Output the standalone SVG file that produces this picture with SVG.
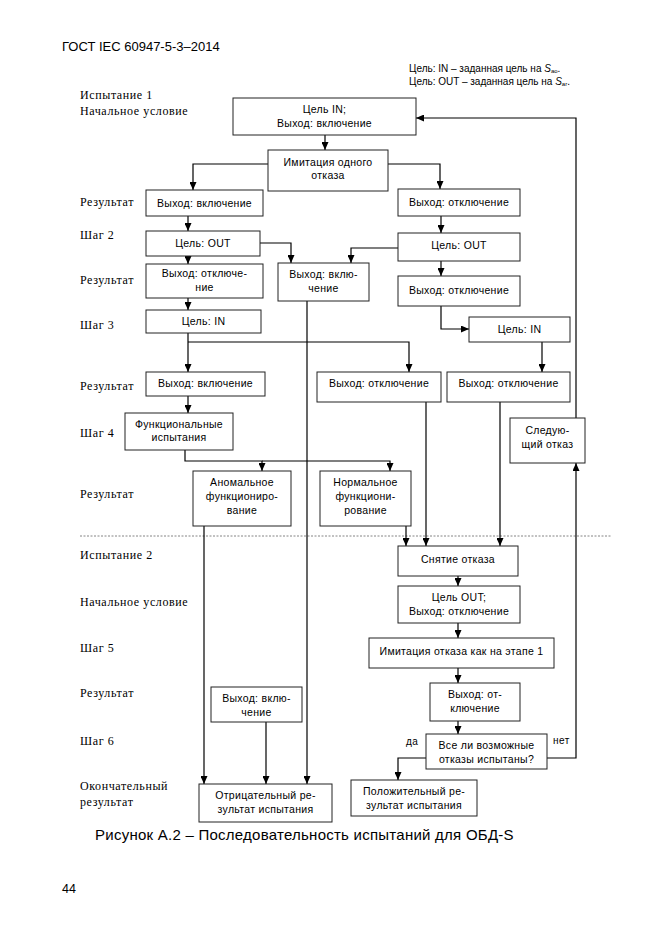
<svg xmlns="http://www.w3.org/2000/svg" width="661" height="935" viewBox="0 0 661 935">
<style>
.bg{fill:#fff}
.box{fill:#fff;stroke:#222;stroke-width:1}
.t{font-family:"Liberation Sans",Arial,sans-serif;font-size:10.5px;fill:#000;text-anchor:middle;letter-spacing:0.3px}
.lbl{font-family:"Liberation Serif","Times New Roman",serif;font-size:12px;fill:#000;letter-spacing:0.6px}
.c{fill:none;stroke:#000;stroke-width:1.2}
.hdr{font-family:"Liberation Sans",Arial,sans-serif;fill:#000}
</style>
<defs>
<marker id="ah" markerUnits="userSpaceOnUse" markerWidth="8" markerHeight="7" refX="8" refY="3.5" orient="auto">
<path d="M0,0 L8,3.5 L0,7 z" fill="#000"/>
</marker>
</defs>
<rect class="bg" x="0" y="0" width="661" height="935"/>
<g id="header">
<text class="hdr" x="62" y="51" font-size="13">ГОСТ IEC 60947-5-3–2014</text>
<text class="hdr" x="409" y="72" font-size="10">Цель: IN – заданная цель на <tspan font-style="italic">S</tspan><tspan font-size="6" dy="1">ao</tspan><tspan dy="-1">.</tspan></text>
<text class="hdr" x="409" y="85" font-size="10">Цель: OUT – заданная цель на <tspan font-style="italic">S</tspan><tspan font-size="6" dy="1">ar</tspan><tspan dy="-1">.</tspan></text>
<text class="hdr" x="95" y="840" font-size="15" letter-spacing="0.25">Рисунок А.2 – Последовательность испытаний для ОБД-S</text>
<text class="hdr" x="62" y="893" font-size="12.5">44</text>
</g>
<g id="labels">
<text class="lbl" x="80" y="99">Испытание 1</text>
<text class="lbl" x="80" y="115">Начальное условие</text>
<text class="lbl" x="80" y="206">Результат</text>
<text class="lbl" x="80" y="239">Шаг 2</text>
<text class="lbl" x="80" y="284">Результат</text>
<text class="lbl" x="80" y="329">Шаг 3</text>
<text class="lbl" x="80" y="390">Результат</text>
<text class="lbl" x="80" y="437">Шаг 4</text>
<text class="lbl" x="80" y="498">Результат</text>
<text class="lbl" x="80" y="559">Испытание 2</text>
<text class="lbl" x="80" y="606">Начальное условие</text>
<text class="lbl" x="80" y="652">Шаг 5</text>
<text class="lbl" x="80" y="697">Результат</text>
<text class="lbl" x="80" y="745">Шаг 6</text>
<text class="lbl" x="80" y="790">Окончательный</text>
<text class="lbl" x="80" y="806">результат</text>
</g>
<line x1="80" y1="536" x2="611" y2="536" stroke="#666" stroke-width="0.8" stroke-dasharray="2,1.5"/>
<g id="connectors">
<path class="c" d="M325,135 V150" marker-end="url(#ah)"/>
<path class="c" d="M268,164 H193 V190" marker-end="url(#ah)"/>
<path class="c" d="M388,164 H440 V189" marker-end="url(#ah)"/>
<path class="c" d="M188,216 V231" marker-end="url(#ah)"/>
<path class="c" d="M188,256 V264" marker-end="url(#ah)"/>
<path class="c" d="M260,243 H291 V263" marker-end="url(#ah)"/>
<path class="c" d="M398,248 H351 V263" marker-end="url(#ah)"/>
<path class="c" d="M441,216 V233" marker-end="url(#ah)"/>
<path class="c" d="M441,261 V276" marker-end="url(#ah)"/>
<path class="c" d="M188,298 V310" marker-end="url(#ah)"/>
<path class="c" d="M441,306 V329 H469" marker-end="url(#ah)"/>
<path class="c" d="M188,333 V372" marker-end="url(#ah)"/>
<path class="c" d="M188,342 H409 V372" marker-end="url(#ah)"/>
<path class="c" d="M542,342 V372" marker-end="url(#ah)"/>
<path class="c" d="M188,396 V413" marker-end="url(#ah)"/>
<path class="c" d="M185,450 V461 H262 V471" marker-end="url(#ah)"/>
<path class="c" d="M262,461 H390 V471" marker-end="url(#ah)"/>
<path class="c" d="M307,301 V784" marker-end="url(#ah)"/>
<path class="c" d="M204,526 V784" marker-end="url(#ah)"/>
<path class="c" d="M266,722 V784" marker-end="url(#ah)"/>
<path class="c" d="M406,526 V546" marker-end="url(#ah)"/>
<path class="c" d="M426,402 V546" marker-end="url(#ah)"/>
<path class="c" d="M500,402 V546" marker-end="url(#ah)"/>
<path class="c" d="M458,576 V586" marker-end="url(#ah)"/>
<path class="c" d="M458,623 V638" marker-end="url(#ah)"/>
<path class="c" d="M458,668 V683" marker-end="url(#ah)"/>
<path class="c" d="M458,721 V734" marker-end="url(#ah)"/>
<path class="c" d="M426,758 H398 V780" marker-end="url(#ah)"/>
<path class="c" d="M547,758 H576 V463" marker-end="url(#ah)"/>
<path class="c" d="M576,418 V118 H416" marker-end="url(#ah)"/>
<text class="hdr" x="406" y="745" font-size="10" font-family="Liberation Serif" letter-spacing="0.5">да</text>
<text class="hdr" x="553" y="744" font-size="10" font-family="Liberation Serif" letter-spacing="0.5">нет</text>
</g>
<g id="nA"><rect class="box" x="233" y="98" width="183" height="37"/><text class="t" x="324.5" y="113">Цель IN;</text><text class="t" x="324.5" y="127">Выход: включение</text></g>
<g id="nB"><rect class="box" x="268" y="150" width="120" height="41"/><text class="t" x="328" y="166">Имитация одного</text><text class="t" x="328" y="179">отказа</text></g>
<g id="nC"><rect class="box" x="146" y="190" width="117" height="26"/><text class="t" x="204.5" y="207">Выход: включение</text></g>
<g id="nD"><rect class="box" x="398" y="189" width="122" height="27"/><text class="t" x="459" y="206">Выход: отключение</text></g>
<g id="nE"><rect class="box" x="146" y="231" width="114" height="25"/><text class="t" x="203" y="247">Цель: OUT</text></g>
<g id="nF"><rect class="box" x="398" y="233" width="122" height="28"/><text class="t" x="459" y="249">Цель: OUT</text></g>
<g id="nG"><rect class="box" x="146" y="264" width="117" height="34"/><text class="t" x="204.5" y="277">Выход: отключе-</text><text class="t" x="204.5" y="291">ние</text></g>
<g id="nH"><rect class="box" x="278" y="263" width="91" height="38"/><text class="t" x="323.5" y="278">Выход: вклю-</text><text class="t" x="323.5" y="292">чение</text></g>
<g id="nI"><rect class="box" x="398" y="276" width="122" height="30"/><text class="t" x="459" y="294">Выход: отключение</text></g>
<g id="nJ"><rect class="box" x="146" y="310" width="115" height="23"/><text class="t" x="203.5" y="325">Цель: IN</text></g>
<g id="nK"><rect class="box" x="469" y="317" width="101" height="25"/><text class="t" x="519.5" y="333">Цель: IN</text></g>
<g id="nL"><rect class="box" x="146" y="372" width="119" height="24"/><text class="t" x="205.5" y="387">Выход: включение</text></g>
<g id="nM"><rect class="box" x="317" y="372" width="124" height="30"/><text class="t" x="379" y="387">Выход: отключение</text></g>
<g id="nN"><rect class="box" x="447" y="372" width="123" height="30"/><text class="t" x="508.5" y="387">Выход: отключение</text></g>
<g id="nO"><rect class="box" x="125" y="413" width="108" height="37"/><text class="t" x="179" y="428">Функциональные</text><text class="t" x="179" y="441">испытания</text></g>
<g id="nP"><rect class="box" x="510" y="418" width="75" height="45"/><text class="t" x="547.5" y="434">Следую-</text><text class="t" x="547.5" y="448">щий отказ</text></g>
<g id="nQ"><rect class="box" x="193" y="471" width="98" height="55"/><text class="t" x="242" y="486">Аномальное</text><text class="t" x="242" y="500">функциониро-</text><text class="t" x="242" y="514">вание</text></g>
<g id="nR"><rect class="box" x="320" y="471" width="91" height="55"/><text class="t" x="365.5" y="486">Нормальное</text><text class="t" x="365.5" y="500">функциони-</text><text class="t" x="365.5" y="514">рование</text></g>
<g id="nS"><rect class="box" x="398" y="546" width="120" height="30"/><text class="t" x="458" y="563">Снятие отказа</text></g>
<g id="nT"><rect class="box" x="398" y="586" width="122" height="37"/><text class="t" x="459" y="601">Цель OUT;</text><text class="t" x="459" y="615">Выход: отключение</text></g>
<g id="nU"><rect class="box" x="369" y="638" width="185" height="30"/><text class="t" x="461.5" y="655">Имитация отказа как на этапе 1</text></g>
<g id="nV"><rect class="box" x="430" y="683" width="90" height="38"/><text class="t" x="475" y="698">Выход: от-</text><text class="t" x="475" y="712">ключение</text></g>
<g id="nW"><rect class="box" x="426" y="734" width="121" height="35"/><text class="t" x="486.5" y="749">Все ли возможные</text><text class="t" x="486.5" y="763">отказы испытаны?</text></g>
<g id="nX"><rect class="box" x="211" y="687" width="91" height="35"/><text class="t" x="256.5" y="702">Выход: вклю-</text><text class="t" x="256.5" y="716">чение</text></g>
<g id="nY"><rect class="box" x="199" y="784" width="133" height="38"/><text class="t" x="265.5" y="799">Отрицательный ре-</text><text class="t" x="265.5" y="813">зультат испытания</text></g>
<g id="nZ"><rect class="box" x="351" y="780" width="126" height="36"/><text class="t" x="414" y="795">Положительный ре-</text><text class="t" x="414" y="809">зультат испытания</text></g>
</svg>
